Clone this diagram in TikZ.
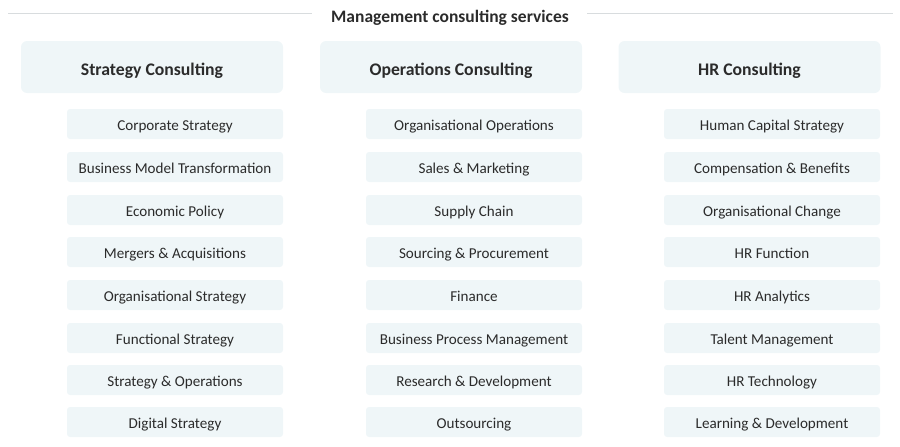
\documentclass[tikz,border=0pt]{standalone}
\usepackage{fontspec}
\setmainfont{Carlito}
\definecolor{boxfill}{HTML}{EFF6F8}
\definecolor{txt}{HTML}{2B2B2B}
\definecolor{rule}{HTML}{D8DCDE}
\begin{document}
\begin{tikzpicture}[x=1pt,y=-1pt,
  head/.style={fill=boxfill,rounded corners=6pt,minimum width=262pt,minimum height=52pt,inner sep=0pt,text height=16pt,text depth=0pt,font=\fontsize{17.7}{20}\selectfont\bfseries,text=txt},
  sub/.style={fill=boxfill,rounded corners=3pt,minimum width=216pt,minimum height=30pt,inner sep=0pt,text height=12.5pt,text depth=0pt,font=\fontsize{15.1}{18}\selectfont,text=txt},
  title/.style={font=\fontsize{17.5}{20}\selectfont\bfseries,text=txt,inner sep=0pt,text height=12pt,text depth=0pt}]
\useasboundingbox (0,0) rectangle (900,447);
\node[title] (t) at (450,16) {Management consulting services};
\coordinate (l1) at (8,13);
\coordinate (r1) at (893,13);
\draw[rule,line width=1pt] (l1) -- ([xshift=-19pt]t.west |- l1);
\draw[rule,line width=1pt] ([xshift=18pt]t.east |- r1) -- (r1);
\node[head] (h1) at (152,67) {Strategy Consulting};
\node[head] (h2) at (451,67) {Operations Consulting};
\node[head] (h3) at (749.5,67) {HR Consulting};
\foreach \i/\y/\a/\b/\c in {
 1/124/Corporate Strategy/Organisational Operations/Human Capital Strategy,
 2/167/Business Model Transformation/Sales \& Marketing/Compensation \& Benefits,
 3/210/Economic Policy/Supply Chain/Organisational Change,
 4/252/Mergers \& Acquisitions/Sourcing \& Procurement/HR Function,
 5/295/Organisational Strategy/Finance/HR Analytics,
 6/338/Functional Strategy/Business Process Management/Talent Management,
 7/380/Strategy \& Operations/Research \& Development/HR Technology,
 8/422/Digital Strategy/Outsourcing/Learning \& Development}{
  \node[sub] (a\i) at (175,\y) {\a};
  \node[sub] (b\i) at (474,\y) {\b};
  \node[sub] (c\i) at (772,\y) {\c};
}
\end{tikzpicture}
\end{document}
